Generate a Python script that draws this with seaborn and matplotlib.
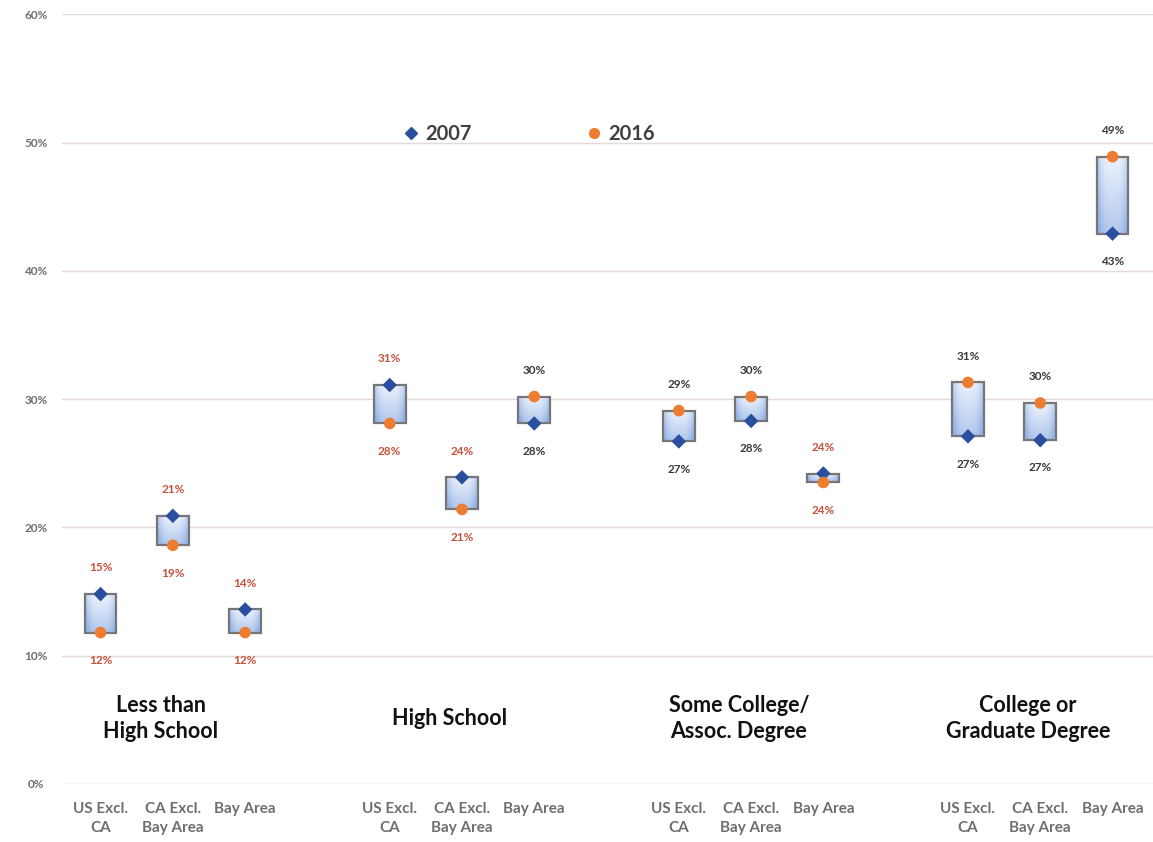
import numpy as np
import pandas as pd
import matplotlib
matplotlib.use("Agg")
import matplotlib.pyplot as plt
import seaborn as sns
from matplotlib.lines import Line2D

# ---------------- data ----------------
groups = ["Less than\nHigh School", "High School", "Some College/\nAssoc. Degree", "College or\nGraduate Degree"]
regions = ["US Excl.\nCA", "CA Excl.\nBay Area", "Bay Area"]
v2007 = [14.8, 20.9, 13.6,
         31.1, 23.9, 28.1,
         26.7, 28.3, 24.2,
         27.1, 26.8, 42.9]
v2016 = [11.8, 18.6, 11.8,
         28.1, 21.4, 30.2,
         29.1, 30.2, 23.5,
         31.3, 29.7, 48.9]
lbl2007 = ["15%", "21%", "14%", "31%", "24%", "28%", "27%", "28%", "24%", "27%", "27%", "43%"]
lbl2016 = ["12%", "19%", "12%", "28%", "21%", "30%", "29%", "30%", "24%", "31%", "30%", "49%"]
yticks = [0, 10, 20, 30, 40, 50, 60]
years = ["2007", "2016"]

# ---------------- style ----------------
sns.set_theme(style="white")
plt.rcParams["font.family"] = ["Lato", "DejaVu Sans"]
BLUE = "#2a4f9e"
ORANGE = "#ed7d31"
RED_TXT = "#c8503a"
DARK_TXT = "#3a3a3a"
GRAY_TXT = "#6e6e6e"

fig = plt.figure(figsize=(11.53, 8.42), dpi=100)
ax = fig.add_axes([0.054, 0.069, 0.946, 0.914])

n_reg = len(regions)
pos = [g * (n_reg + 1) + r for g in range(len(groups)) for r in range(n_reg)]

rows = []
for p, a, b in zip(pos, v2007, v2016):
    rows.append({"pos": p, "value": a, "year": years[0]})
    rows.append({"pos": p, "value": b, "year": years[1]})
df = pd.DataFrame(rows)

# gridlines
for t in yticks:
    ax.axhline(t, color="#e3d9d6", lw=1.0, zorder=0)

# gradient boxes
h, w = 64, 32
ty = np.linspace(0, 1, h)[:, None]
tx = np.abs(np.linspace(-1, 1, w))[None, :]
wgt = np.clip(0.6 * ty + 0.55 * tx ** 3 + 0.1, 0, 1)
top_c = np.array([0.97, 0.98, 1.0])
bot_c = np.array([0.58, 0.70, 0.90])
img = top_c[None, None, :] * (1 - wgt[..., None]) + bot_c[None, None, :] * wgt[..., None]

bw = 0.44
for p, a, b in zip(pos, v2007, v2016):
    lo, hi = min(a, b), max(a, b)
    ax.imshow(img, extent=(p - bw / 2, p + bw / 2, lo, hi), origin="upper",
              aspect="auto", zorder=2, interpolation="bilinear")
    ax.add_patch(plt.Rectangle((p - bw / 2, lo), bw, hi - lo, fill=False,
                               edgecolor="#767676", lw=1.6, zorder=3))

sns.scatterplot(data=df, x="pos", y="value", hue="year", style="year",
                markers={"2007": "D", "2016": "o"},
                palette={"2007": BLUE, "2016": ORANGE},
                size="year", sizes={"2007": 55, "2016": 70},
                edgecolor="none", linewidth=0, zorder=4, legend=False, ax=ax)

# value labels
for p, a, b, la, lb in zip(pos, v2007, v2016, lbl2007, lbl2016):
    col = RED_TXT if a > b else DARK_TXT
    hi_lbl, lo_lbl = (la, lb) if a >= b else (lb, la)
    ax.annotate(hi_lbl, (p, max(a, b)), xytext=(0, 15), textcoords="offset points",
                ha="center", va="bottom", fontsize=8.5, fontweight="bold", color=col)
    ax.annotate(lo_lbl, (p, min(a, b)), xytext=(0, -16), textcoords="offset points",
                ha="center", va="top", fontsize=8.5, fontweight="bold", color=col)

# group labels
for g, name in enumerate(groups):
    cx = g * (n_reg + 1) + (n_reg - 1) / 2 - 0.17
    ax.text(cx, 5.07, name, ha="center", va="center", fontsize=15.5,
            fontweight="bold", color="#111111", linespacing=1.3)

ax.set_xlim(-0.53, 14.56)
ax.set_ylim(0, 60)
ax.set_yticks(yticks)
ax.set_yticklabels([f"{t}%" for t in yticks], fontsize=8.5, fontweight="bold", color=GRAY_TXT)
ax.set_xticks(pos)
ax.set_xticklabels(regions * len(groups), fontsize=11, fontweight="bold", color=GRAY_TXT,
                   va="top", linespacing=1.45)
ax.tick_params(axis="x", length=0, pad=13)
ax.tick_params(axis="y", length=0, pad=19)
for lab in ax.get_yticklabels():
    lab.set_horizontalalignment("center")
ax.set_xlabel("")
ax.set_ylabel("")
for s in ax.spines.values():
    s.set_visible(False)

handles = [Line2D([], [], marker="D", color=BLUE, ls="none", markersize=6),
           Line2D([], [], marker="o", color=ORANGE, ls="none", markersize=7)]
leg = ax.legend(handles, years, ncol=2, frameon=False, loc="center",
                bbox_to_anchor=(0.427, 0.845), columnspacing=5.6, handletextpad=0.2,
                handlelength=1.0, prop={"size": 14.5, "weight": "bold"})
for t in leg.get_texts():
    t.set_color("#404040")

fig.savefig("out.png", dpi=100, facecolor="white")
